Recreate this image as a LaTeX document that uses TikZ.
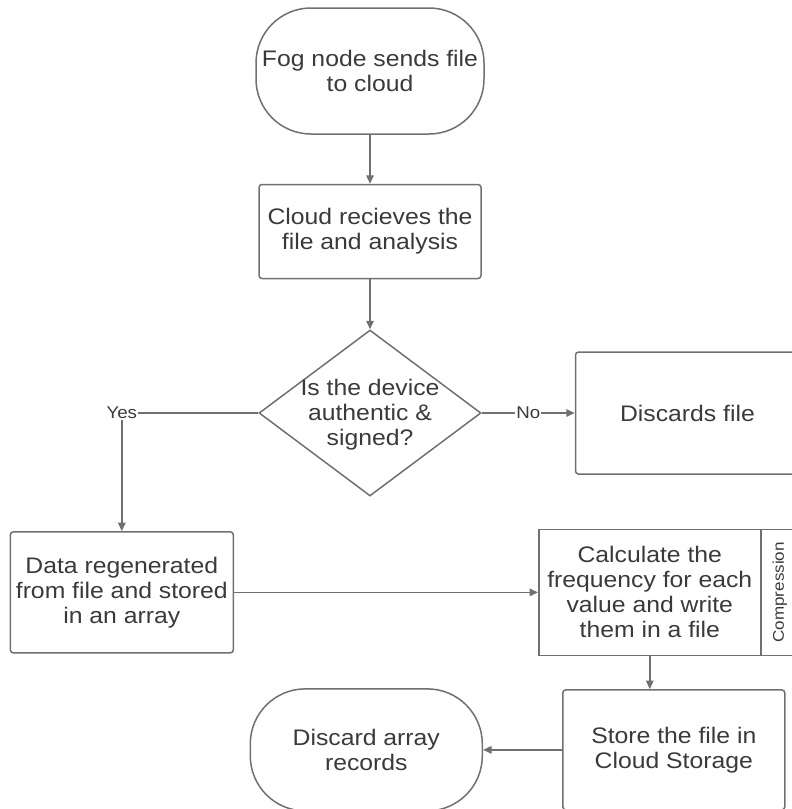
\documentclass[tikz,border=0pt]{standalone}
\usepackage{fontspec}
\setmainfont{Liberation Sans}[FakeStretch=1.1]
\usepackage{xcolor}
\usepackage{tikz}
\usetikzlibrary{arrows.meta,positioning,shapes.geometric}
\definecolor{edge}{HTML}{707070}
\definecolor{ink}{HTML}{3A3A3A}

\begin{document}
\begin{tikzpicture}[x=1pt,y=-1pt,font=\fontsize{22.5}{25}\selectfont,text=ink,
  term/.style={draw=edge,line width=1.5pt,rounded corners=55pt,align=center,inner sep=0pt,minimum width=228pt,minimum height=126pt},
  proc/.style={draw=edge,line width=1.5pt,rounded corners=3pt,align=center,inner sep=2pt,minimum width=222pt,minimum height=122pt},
  decision/.style={draw=edge,line width=1.5pt,diamond,inner sep=0pt,minimum width=222pt,minimum height=166pt},
  lbl/.style={font=\fontsize{17}{19}\selectfont,inner sep=1pt},
  arr/.style={-{Triangle[length=8.5pt,width=7.5pt]},line width=1.5pt,draw=edge},
  plain/.style={line width=1.5pt,draw=edge}]
\useasboundingbox (0,0) rectangle (792,809);
\node[term] (fog) at (370,71) {Fog node sends file\\to cloud};
\node[proc,below=49pt of fog,minimum height=94pt] (recv) {Cloud recieves the\\file and analysis};
\node[decision,below=50pt of recv,
      label={[align=center,yshift=-2pt]center:Is the device\\authentic \&\\signed?}] (auth) {};
\node[proc,right=93pt of auth,minimum width=224pt] (disc) {Discards file};
\node[lbl,left=120pt of auth] (yes) {Yes};
\node[proc,below=111pt of yes,minimum width=223pt,minimum height=121pt] (regen) {Data regenerated\\from file and stored\\in an array};
\node[proc,right=304pt of regen,minimum height=126pt,rounded corners=0pt] (freq) {Calculate the\\frequency for each\\value and write\\them in a file};
\node[draw=edge,line width=1.5pt,right=-1.5pt of freq,minimum width=38pt,minimum height=126pt,inner sep=0pt,
      font=\fontsize{15.5}{17}\selectfont] (comp) {\rotatebox{90}{Compression}};
\node[proc,below=33pt of freq,xshift=24pt,minimum height=120pt] (store) {Store the file in\\Cloud Storage};
\node[term,left=79pt of store,minimum width=232pt,minimum height=122pt] (drop) {Discard array\\records};
\draw[arr] (fog) -- (recv);
\draw[arr] (recv) -- (auth);
\draw[arr] (auth.east) -- node[lbl,fill=white]{No} (disc.west);
\draw[plain] (auth.west) -- (yes.east);
\draw[arr] (yes.south) -- (yes.south |- regen.north);
\draw[arr] (regen.east) -- (freq.west);
\draw[arr] (freq.south) -- (freq.south |- store.north);
\draw[arr] (store.west) -- (drop.east);
\end{tikzpicture}
\end{document}
